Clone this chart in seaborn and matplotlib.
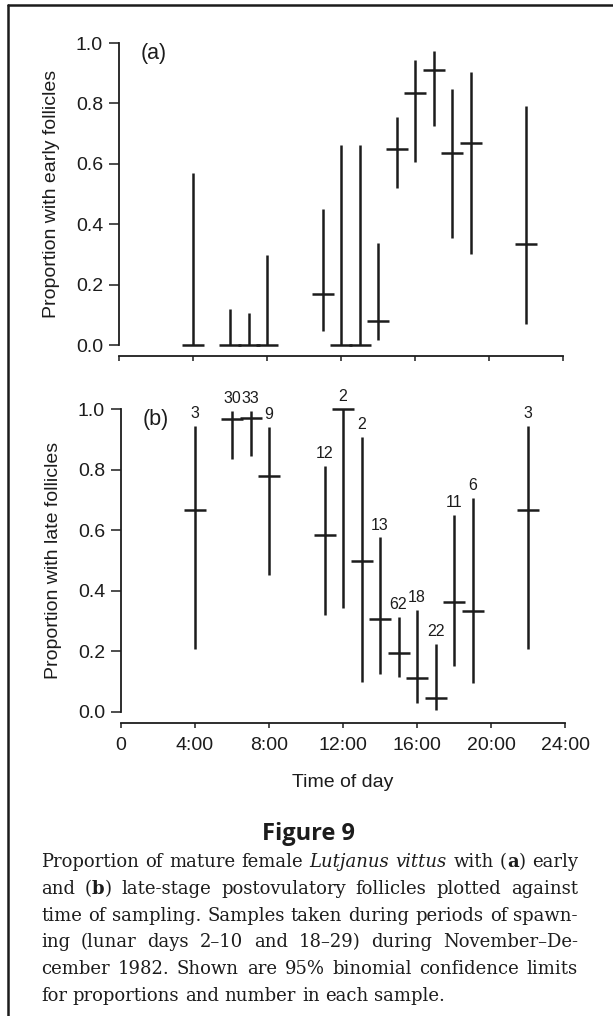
import matplotlib
matplotlib.use("Agg")
import numpy as np
import pandas as pd
import seaborn as sns
import matplotlib.pyplot as plt
from matplotlib.lines import Line2D

# ---------------- data ----------------
hours = [4, 6, 7, 8, 11, 12, 13, 14, 15, 16, 17, 18, 19, 22]

early_prop = [0.0, 0.0, 0.0, 0.0, 0.17, 0.0, 0.0, 0.08, 0.65, 0.835, 0.91, 0.635, 0.67, 0.335]
early_low = [0.0, 0.0, 0.0, 0.0, 0.045, 0.0, 0.0, 0.015, 0.52, 0.605, 0.725, 0.355, 0.30, 0.07]
early_high = [0.57, 0.118, 0.107, 0.297, 0.449, 0.661, 0.661, 0.337, 0.754, 0.944, 0.974, 0.847, 0.905, 0.792]

late_prop = [0.667, 0.967, 0.97, 0.778, 0.583, 1.0, 0.5, 0.308, 0.194, 0.111, 0.045, 0.364, 0.333, 0.667]
late_low = [0.208, 0.835, 0.846, 0.453, 0.321, 0.343, 0.098, 0.125, 0.114, 0.030, 0.008, 0.151, 0.096, 0.208]
late_high = [0.943, 0.995, 0.995, 0.941, 0.811, 1.0, 0.908, 0.576, 0.313, 0.338, 0.224, 0.651, 0.706, 0.943]
sample_n = [3, 30, 33, 9, 12, 2, 2, 13, 62, 18, 22, 11, 6, 3]

x_ticks = [0, 4, 8, 12, 16, 20, 24]
x_ticklabels = ["0", "4:00", "8:00", "12:00", "16:00", "20:00", "24:00"]
y_ticks = [0.0, 0.2, 0.4, 0.6, 0.8, 1.0]
y_ticklabels = ["0.0", "0.2", "0.4", "0.6", "0.8", "1.0"]

caption_title = "Figure 9"
caption_lines = [
    [("Proportion of mature female ", "n"), ("Lutjanus vittus", "i"), (" with (", "n"), ("a", "b"), (") early", "n")],
    [("and (", "n"), ("b", "b"), (") late-stage postovulatory follicles plotted against", "n")],
    [("time of sampling. Samples taken during periods of spawn-", "n")],
    [("ing (lunar days 2\u201310 and 18\u201329) during November\u2013De-", "n")],
    [("cember 1982. Shown are 95% binomial confidence limits", "n")],
    [("for proportions and number in each sample.", "n")],
]

df_a = pd.DataFrame({"hour": hours, "prop": early_prop, "low": early_low, "high": early_high})
df_b = pd.DataFrame({"hour": hours, "prop": late_prop, "low": late_low, "high": late_high, "n": sample_n})

# ---------------- style ----------------
sns.set_theme(style="ticks")
plt.rcParams["font.family"] = ["Liberation Sans", "DejaVu Sans"]
INK = "#1c1c1c"
W, H = 613, 1016
fig = plt.figure(figsize=(W / 100, H / 100), dpi=100)
fig.patch.set_facecolor("white")


def px_axes(left, top, right, bottom):
    return fig.add_axes([left / W, 1 - bottom / H, (right - left) / W, (bottom - top) / H])


ax_a = px_axes(119, 43, 563, 345)
ax_b = px_axes(121, 409, 565, 712)

LW = 1.8
for ax, df, ylab, tag in [(ax_a, df_a, "Proportion with early follicles", "(a)"),
                          (ax_b, df_b, "Proportion with late follicles", "(b)")]:
    ax.set_facecolor("white")
    ax.vlines(df["hour"], df["low"], df["high"], color=INK, lw=LW, clip_on=False)
    sns.scatterplot(data=df, x="hour", y="prop", marker="_", s=240, linewidth=LW,
                    color=INK, ax=ax, legend=False, clip_on=False, zorder=3)
    ax.set_xlim(0, 24)
    ax.set_ylim(0, 1)
    ax.set_xticks(x_ticks)
    ax.set_yticks(y_ticks)
    ax.set_yticklabels(y_ticklabels, fontsize=14)
    sns.despine(ax=ax)
    ax.spines["bottom"].set_position(("outward", 8))
    ax.spines["bottom"].set_bounds(0, 24)
    ax.spines["left"].set_bounds(0, 1)
    for sp in ("left", "bottom"):
        ax.spines[sp].set_linewidth(1.3)
        ax.spines[sp].set_color(INK)
    ax.tick_params(axis="y", direction="out", length=7.5, width=1.1, pad=4, colors=INK)
    ax.tick_params(axis="x", direction="out", length=3.8, width=1.1, pad=6, colors=INK)
    ax.set_ylabel(ylab, fontsize=14, color=INK)
    ax.yaxis.set_label_coords(-0.133, 0.5)
    ax.set_xlabel("")
    ax.text(1.15, 1.0, tag, fontsize=15.5, color=INK, ha="left", va="top")

ax_a.set_xticklabels([])
ax_b.set_xticklabels(x_ticklabels, fontsize=14)
ax_b.set_xlabel("Time of day", fontsize=14, color=INK)
ax_b.xaxis.set_label_coords(0.5, -0.205)

for h, hi, n in zip(df_b["hour"], df_b["high"], df_b["n"]):
    ax_b.annotate(str(n), (h, hi), xytext=(0, 3.5), textcoords="offset points",
                  ha="center", va="bottom", fontsize=11.5, color=INK)

# page frame (top and left edges visible)
fig.add_artist(Line2D([8 / W, 1.0], [1 - 5 / H, 1 - 5 / H], transform=fig.transFigure, color=INK, lw=1.8))
fig.add_artist(Line2D([8 / W, 8 / W], [1 - 5 / H, 0.0], transform=fig.transFigure, color=INK, lw=1.8))

# ---------------- caption ----------------
fig.text(309 / W, 1 - 840 / H, caption_title, fontsize=17, fontweight="bold",
         family=["Open Sans", "DejaVu Sans"], ha="center", va="baseline", color=INK)

fig.canvas.draw()
renderer = fig.canvas.get_renderer()
SERIF = ["DejaVu Serif"]


def style_kw(st, fs):
    kw = dict(fontsize=fs, family=SERIF, color=INK)
    if st == "i":
        kw["style"] = "italic"
    if st == "b":
        kw["weight"] = "bold"
    return kw


def measure(s, st, fs):
    t = fig.text(0, 0, s, **style_kw(st, fs))
    w = t.get_window_extent(renderer).width
    t.remove()
    return w


def words_of(line):
    words, cur = [], []
    for seg, st in line:
        parts = seg.split(" ")
        for i, p in enumerate(parts):
            if i > 0:
                if cur:
                    words.append(cur)
                cur = []
            if p:
                cur.append((p, st))
    if cur:
        words.append(cur)
    return words


# font size chosen so the last (unjustified) line spans its width in the reference
last_text = "".join(s for s, _ in caption_lines[-1])
fs_cap = 10 * 405 / measure(last_text, "n", 10)
space_w = measure("a a", "n", fs_cap) - measure("aa", "n", fs_cap)

x_left, x_right = 41, 578
baseline0, line_step = 867, 26.8
for li, line in enumerate(caption_lines):
    words = words_of(line)
    widths = [sum(measure(p, st, fs_cap) for p, st in w) for w in words]
    justify = li < len(caption_lines) - 1
    gap = (x_right - x_left - sum(widths)) / (len(words) - 1) if justify else space_w
    x = x_left
    yb = baseline0 + li * line_step
    for w, ww in zip(words, widths):
        xx = x
        for p, st in w:
            fig.text(xx / W, 1 - yb / H, p, ha="left", va="baseline", **style_kw(st, fs_cap))
            xx += measure(p, st, fs_cap)
        x += ww + gap

fig.savefig("out.png", dpi=100, facecolor="white")
